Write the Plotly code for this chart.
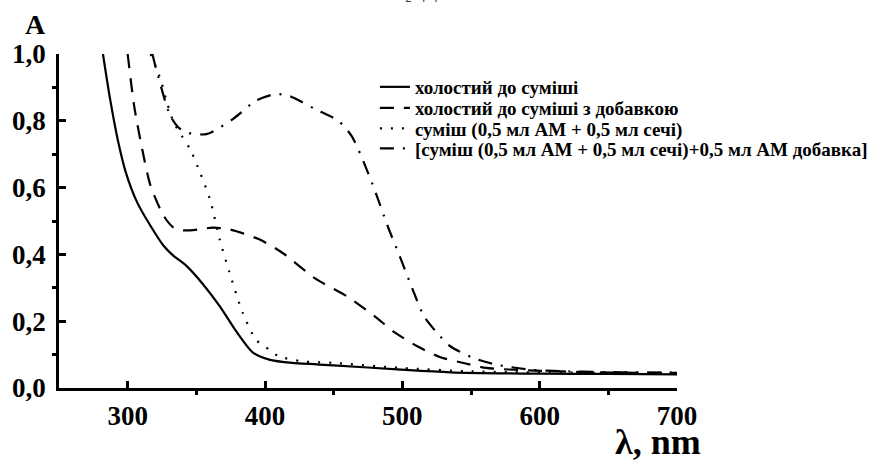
import plotly.graph_objects as go

# Data
names = [
    "холостий до суміші",
    "холостий до суміші з добавкою",
    "суміш (0,5 мл АМ + 0,5 мл сечі)",
    "[суміш (0,5 мл АМ + 0,5 мл сечі)+0,5 мл АМ добавка]",
]

x_blank = [282, 287, 292.7, 298.7, 307, 316.7, 326.3, 333, 343, 355, 367, 379, 391, 403, 420, 450, 499, 535, 600, 650, 700]
y_blank = [1.0, 0.87, 0.745, 0.645, 0.555, 0.485, 0.425, 0.397, 0.365, 0.31, 0.245, 0.17, 0.107, 0.085, 0.075, 0.068, 0.055, 0.047, 0.043, 0.042, 0.041]

x_blank_add = [300, 304.7, 310.6, 316.7, 326.3, 333.5, 340.6, 352, 362, 374, 395.8, 412.6, 436.5, 460.6, 479.7, 495, 510.9, 527.7, 544.5, 561, 592, 640, 700]
y_blank_add = [1.0, 0.845, 0.715, 0.605, 0.515, 0.48, 0.472, 0.475, 0.48, 0.475, 0.445, 0.405, 0.328, 0.272, 0.215, 0.165, 0.125, 0.092, 0.075, 0.06, 0.053, 0.047, 0.045]

x_mix = [316.7, 323.9, 328.6, 333.5, 339.4, 345.5, 352.7, 359.9, 367, 374.2, 383.8, 393.4, 403, 410, 427, 450.7, 499, 550, 620, 700]
y_mix = [1.0, 0.925, 0.855, 0.795, 0.755, 0.715, 0.645, 0.565, 0.445, 0.345, 0.225, 0.145, 0.115, 0.095, 0.08, 0.075, 0.06, 0.05, 0.046, 0.045]

x_mix_add = [318, 321.4, 331, 337, 343, 357.4, 376.6, 393.4, 407.8, 417.4, 436.5, 453.4, 463, 470, 479.7, 489.3, 499, 508.5, 515.7, 525.3, 534.9, 551.6, 568.4, 592.4, 616.4, 660, 700]
y_mix_add = [1.0, 0.945, 0.815, 0.78, 0.765, 0.76, 0.805, 0.86, 0.88, 0.875, 0.835, 0.80, 0.755, 0.695, 0.595, 0.485, 0.385, 0.285, 0.215, 0.165, 0.125, 0.09, 0.07, 0.055, 0.05, 0.047, 0.046]

x_ticks = [300, 400, 500, 600, 700]
y_ticks = [0.0, 0.2, 0.4, 0.6, 0.8, 1.0]

series = [
    (x_blank, y_blank, "solid"),
    (x_blank_add, y_blank_add, "14px,10px"),
    (x_mix, y_mix, "2px,9px"),
    (x_mix_add, y_mix_add, "14px,9px,2px,9px"),
]

FONT = "Liberation Serif, Times New Roman, serif"

# plot area in pixels: x 54..680, y 54..388
PLOT_T, PLOT_B = 54, 388
def py(p):
    return (PLOT_B - p) / (PLOT_B - PLOT_T)

legend_rows = [87, 108, 128.5, 148.5]
legend_ids = ["legend", "legend2", "legend3", "legend4"]

fig = go.Figure()
for (xs, ys, dash), nm, lid in zip(series, names, legend_ids):
    fig.add_trace(go.Scatter(
        x=xs, y=ys, mode="lines", name=nm, legend=lid,
        line=dict(color="black", width=2.2, dash=dash, shape="spline", smoothing=0.7),
    ))

layout_legends = {}
for lid, row in zip(legend_ids, legend_rows):
    layout_legends[lid] = dict(
        x=(374 - 54) / 626, y=py(row), xanchor="left", yanchor="middle",
        font=dict(family=FONT, size=19, color="black", weight="bold"),
        bgcolor="rgba(0,0,0,0)", borderwidth=0,
    )

fig.update_layout(
    width=885, height=462,
    margin=dict(l=54, r=205, t=54, b=74),
    paper_bgcolor="white", plot_bgcolor="white",
    separators=", ",
    font=dict(family=FONT, color="black"),
    showlegend=True,
    xaxis=dict(
        range=[250, 700], tickvals=x_ticks, tickformat="d",
        showgrid=False, zeroline=False,
        showline=True, linecolor="black", linewidth=2.5,
        ticks="inside", ticklen=7, tickwidth=2.5, tickcolor="black",
        tickfont=dict(family=FONT, size=27, color="black", weight="bold"),
        ticklabelstandoff=2,
        minor=dict(tickvals=[350, 450, 550, 650], ticks="outside", ticklen=4, tickwidth=2.5, tickcolor="black"),
    ),
    yaxis=dict(
        range=[0, 1.0], tickvals=y_ticks, tickformat=".1f",
        showgrid=False, zeroline=False,
        showline=True, linecolor="black", linewidth=2.5,
        ticks="inside", ticklen=7, tickwidth=2.5, tickcolor="black",
        tickfont=dict(family=FONT, size=27, color="black", weight="bold"),
        ticklabelstandoff=5,
        minor=dict(tickvals=[0.1, 0.3, 0.5, 0.7, 0.9], ticks="outside", ticklen=4, tickwidth=2.5, tickcolor="black"),
    ),
    annotations=[
        dict(text="A", xref="paper", yref="paper", x=(30 - 54) / 626, y=py(24), xanchor="center", yanchor="middle",
             showarrow=False, font=dict(family=FONT, size=28, color="black", weight="bold")),
        dict(text="λ, nm", xref="paper", yref="paper", x=(661 - 54) / 626, y=py(442), xanchor="center", yanchor="middle",
             showarrow=False, font=dict(family=FONT, size=36, color="black", weight="bold")),
        dict(text="2  4  7", xref="paper", yref="paper", x=(422 - 54) / 626, y=py(-1), xanchor="center", yanchor="middle",
             showarrow=False, font=dict(family="DejaVu Sans", size=11, color="#444")),
    ],
    **layout_legends,
)

fig.write_html("out.html")
